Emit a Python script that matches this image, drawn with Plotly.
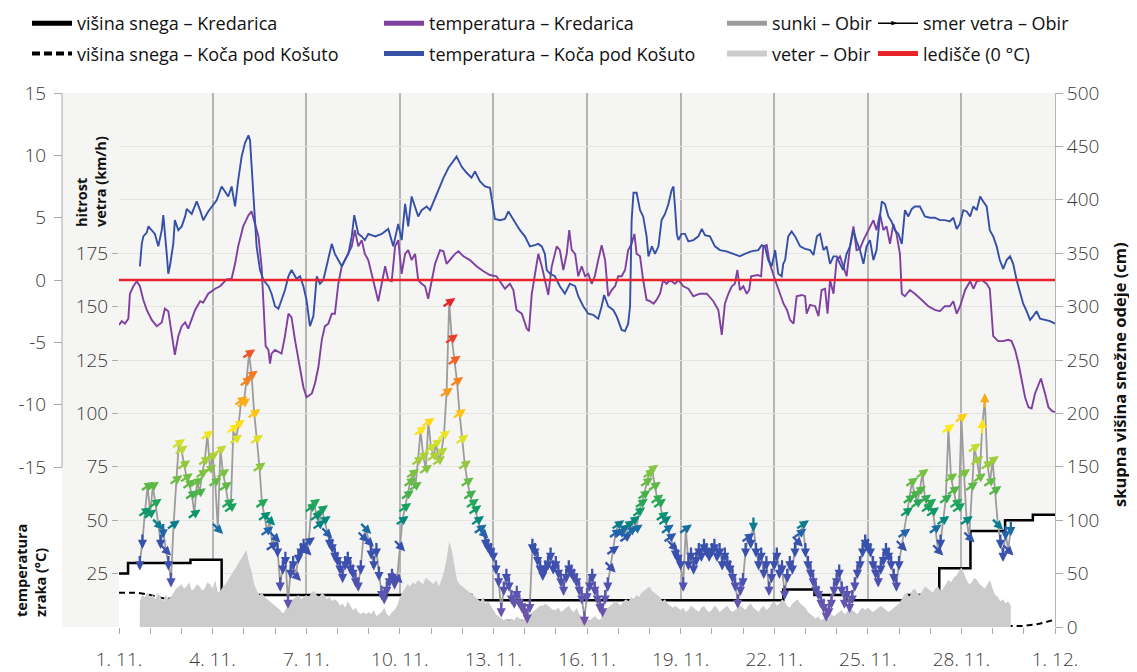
import numpy as np
import pandas as pd
import plotly.graph_objects as go
from plotly.colors import sample_colorscale

FONT = "Open Sans"
BASE = pd.Timestamp("2022-11-01")

# ---------------- data (days since 1. 11. 00:00) ----------------
kred_snow_days = [0, 0.29, 2.29, 3.29, 11.29, 21.29, 22.29, 23.29, 25.29, 26.29, 27.29, 28.4, 29.29, 30]
kred_snow_cm = [50, 60, 63, 30, 25, 35, 30, 25, 30, 55, 90, 100, 105, 105]

kosuta_snow_days = [0, 0.6, 1.0, 1.4, 1.7, 2.0, 3.0, 4.0, 5.0, 5.5, 6.5, 8.0, 8.5, 12, 16, 20, 24, 28, 28.6, 29.0, 29.5, 30]
kosuta_snow_cm = [32, 32, 30, 27, 26.5, 27, 24, 20, 13, 10, 9, 8, 8, 6, 5, 4, 3, 2, 1, 1, 3, 7]

kred_temp_pts = [
    (0.00, -3.6), (0.09, -3.3), (0.19, -3.5), (0.30, -3.1), (0.35, -1.1), (0.46, -0.5), (0.57, -0.1),
    (0.67, -0.5), (0.78, -1.6), (0.89, -2.4), (1.05, -3.2), (1.21, -3.7), (1.37, -3.4), (1.47, -2.3),
    (1.58, -2.5), (1.69, -4.5), (1.79, -6.0), (1.90, -4.5), (2.01, -3.7), (2.12, -3.4), (2.22, -3.9),
    (2.44, -2.4), (2.60, -1.7), (2.70, -1.8), (2.86, -1.1), (3.08, -0.7), (3.24, -0.5), (3.45, 0.05),
    (3.61, 0.1), (3.72, 1.3), (3.82, 2.7), (3.98, 4.3), (4.15, 5.2), (4.25, 5.5), (4.36, 4.5),
    (4.47, 3.5), (4.57, 1.1), (4.65, -3.2), (4.70, -5.3), (4.79, -5.6), (4.84, -6.7), (4.89, -5.9),
    (5.00, -5.6), (5.21, -5.9), (5.32, -4.5), (5.43, -2.7), (5.53, -3.0), (5.64, -4.8), (5.80, -7.2),
    (5.91, -8.6), (6.01, -9.4), (6.18, -9.1), (6.28, -8.3), (6.39, -7.0), (6.50, -4.8), (6.60, -3.7),
    (6.71, -3.5), (6.82, -2.7), (6.92, -2.7), (7.03, -0.3), (7.14, 1.1), (7.24, 1.6), (7.35, 2.1),
    (7.46, 2.7), (7.56, 4.0), (7.67, 2.7), (7.78, 3.2), (7.88, 2.1), (7.99, 1.6), (8.10, 0.5),
    (8.21, -0.5), (8.31, -1.7), (8.42, -0.3), (8.53, 1.1), (8.63, 0.0), (8.74, -0.1), (8.85, 2.7),
    (8.95, 3.2), (9.06, 0.5), (9.17, 2.1), (9.27, 2.4), (9.38, 1.6), (9.49, 2.1), (9.59, 0.0),
    (9.70, -0.3), (9.81, -0.5), (9.91, -1.5), (10.13, 1.3), (10.29, 2.4), (10.40, 2.3), (10.50, 1.3),
    (10.61, 1.6), (10.77, 2.1), (10.88, 2.3), (11.04, 1.9), (11.25, 1.6), (11.46, 1.1), (11.68, 0.7),
    (11.89, 0.4), (12.10, 0.3), (12.27, -0.4), (12.37, -0.7), (12.53, -0.3), (12.64, -0.8), (12.74, -2.4),
    (12.91, -2.7), (13.07, -3.9), (13.14, -4.1), (13.23, -1.1), (13.33, 0.5), (13.44, 2.1), (13.55, 1.1),
    (13.65, 0.0), (13.76, -1.2), (13.87, 1.1), (14.03, 2.7), (14.13, 2.4), (14.24, 0.8), (14.35, 2.1),
    (14.43, 4.0), (14.51, 2.4), (14.62, 2.1), (14.72, 0.3), (14.83, 1.1), (14.94, 0.3), (15.04, 0.5),
    (15.15, -0.3), (15.25, 0.3), (15.36, 1.6), (15.47, 2.8), (15.58, 1.6), (15.68, -1.3), (15.79, -0.8),
    (15.90, -0.5), (16.00, 0.3), (16.11, 0.3), (16.22, 0.8), (16.32, 2.4), (16.43, 2.9), (16.52, 3.7),
    (16.59, 2.1), (16.70, 1.9), (16.80, 0.0), (16.91, -1.6), (17.02, -1.7), (17.13, -1.9), (17.23, -1.6),
    (17.34, -1.1), (17.44, 0.0), (17.55, -0.3), (17.66, 0.0), (17.82, -0.3), (17.93, 0.0), (18.09, -0.5),
    (18.25, -0.7), (18.41, -1.3), (18.62, -1.1), (18.84, -1.1), (19.05, -1.7), (19.21, -2.4), (19.32, -4.4),
    (19.42, -1.9), (19.53, -1.1), (19.64, -0.5), (19.74, -0.3), (19.82, 0.8), (19.90, -0.8), (20.01, -0.5),
    (20.12, -1.1), (20.20, -0.8), (20.26, 0.3), (20.47, 0.4), (20.58, 0.3), (20.65, 2.7), (20.76, 2.8),
    (20.86, 1.3), (21.03, 0.0), (21.19, -1.1), (21.30, -1.9), (21.41, -2.4), (21.51, -3.2), (21.62, -3.5),
    (21.72, -1.3), (21.88, -1.2), (21.99, -1.3), (22.04, -2.7), (22.15, -2.0), (22.31, -2.1), (22.42, -2.9),
    (22.52, -0.8), (22.63, -0.7), (22.71, -2.7), (22.79, 0.0), (22.90, -1.1), (23.00, 1.6), (23.11, 1.9),
    (23.21, 1.1), (23.32, 0.3), (23.43, 2.7), (23.54, 4.3), (23.64, 2.4), (23.75, 2.5), (23.86, 3.2),
    (23.96, 3.7), (24.07, 4.3), (24.18, 4.8), (24.28, 4.0), (24.39, 5.3), (24.50, 4.0), (24.60, 4.3),
    (24.71, 2.9), (24.82, 4.5), (24.92, 3.7), (25.03, 2.1), (25.09, -1.1), (25.19, -1.3), (25.35, -0.8),
    (25.51, -1.1), (25.73, -1.6), (25.94, -2.1), (26.15, -2.4), (26.31, -2.5), (26.47, -2.1), (26.63, -2.1),
    (26.74, -1.7), (26.85, -2.7), (26.96, -2.1), (27.12, -0.8), (27.28, -0.1), (27.39, -0.7), (27.49, -0.1),
    (27.65, 0.0), (27.81, -0.3), (27.91, -0.7), (28.02, -4.5), (28.18, -4.9), (28.34, -4.9), (28.50, -4.8),
    (28.61, -4.9), (28.72, -5.6), (28.83, -6.7), (28.93, -8.0), (29.04, -9.4), (29.15, -10.2), (29.25, -10.3),
    (29.36, -9.1), (29.47, -8.3), (29.55, -7.9), (29.68, -9.1), (29.79, -10.2), (29.90, -10.5), (30.00, -10.6),
]

kosuta_temp_pts = [
    (0.67, 1.1), (0.73, 2.9), (0.78, 3.5), (0.89, 3.8), (0.94, 4.3), (1.05, 4.0), (1.15, 3.7), (1.26, 2.7),
    (1.37, 4.0), (1.42, 5.2), (1.47, 4.0), (1.53, 2.1), (1.58, 0.5), (1.63, 1.1), (1.74, 2.9), (1.79, 4.8),
    (1.90, 4.0), (2.01, 4.3), (2.12, 5.1), (2.17, 5.7), (2.33, 5.3), (2.49, 6.3), (2.60, 5.6), (2.70, 4.8),
    (2.86, 5.5), (2.97, 5.9), (3.13, 6.4), (3.29, 7.5), (3.40, 7.1), (3.50, 6.7), (3.61, 7.5), (3.72, 5.9),
    (3.82, 8.0), (3.93, 9.9), (4.04, 11.0), (4.15, 11.6), (4.20, 11.2), (4.25, 9.1), (4.31, 5.9), (4.41, 2.7),
    (4.52, 0.8), (4.63, 0.0), (4.79, -0.5), (4.89, -1.1), (5.00, -2.1), (5.11, -2.3), (5.21, -1.6), (5.32, -0.8),
    (5.43, 0.3), (5.53, 0.8), (5.69, 0.1), (5.80, 0.3), (5.91, -0.5), (6.01, -1.6), (6.12, -3.7), (6.23, -2.9),
    (6.34, 0.3), (6.44, -0.3), (6.55, 0.0), (6.71, 1.6), (6.82, 2.9), (6.92, 2.1), (7.03, 1.6), (7.14, 1.1),
    (7.24, 1.6), (7.35, 2.1), (7.46, 3.5), (7.54, 5.2), (7.67, 3.7), (7.78, 3.5), (7.88, 3.2), (7.99, 3.7),
    (8.21, 3.5), (8.42, 3.7), (8.63, 4.1), (8.79, 2.7), (8.95, 4.5), (9.06, 3.2), (9.17, 6.1), (9.27, 4.3),
    (9.38, 6.7), (9.49, 5.9), (9.59, 5.1), (9.70, 5.6), (9.86, 5.9), (9.97, 5.6), (10.13, 6.6), (10.24, 7.2),
    (10.40, 8.2), (10.56, 9.0), (10.72, 9.6), (10.82, 9.9), (10.98, 9.1), (11.14, 8.6), (11.30, 8.2), (11.41, 8.7),
    (11.57, 7.9), (11.73, 7.5), (11.89, 7.4), (12.05, 4.9), (12.21, 4.8), (12.37, 4.9), (12.48, 5.5), (12.58, 5.1),
    (12.69, 4.7), (12.85, 4.0), (13.01, 3.5), (13.17, 2.7), (13.33, 2.8), (13.44, 2.9), (13.55, 2.7), (13.65, 2.1),
    (13.71, 0.8), (13.82, 0.5), (13.97, 0.3), (14.13, -0.5), (14.29, -1.1), (14.45, -0.3), (14.62, -0.5), (14.72, -1.3),
    (14.88, -2.1), (15.04, -2.7), (15.20, -2.8), (15.36, -3.1), (15.47, -2.1), (15.55, -1.2), (15.68, -2.1), (15.84, -2.4),
    (15.95, -2.9), (16.11, -4.0), (16.22, -4.1), (16.32, -3.5), (16.38, -2.1), (16.43, 4.8), (16.49, 7.0), (16.59, 7.0),
    (16.70, 5.6), (16.80, 5.1), (16.91, 3.5), (16.97, 1.9), (17.08, 2.7), (17.18, 2.1), (17.29, 2.7), (17.39, 4.8),
    (17.50, 5.3), (17.61, 6.1), (17.71, 7.2), (17.77, 7.5), (17.82, 5.9), (17.88, 3.7), (17.93, 3.2), (18.03, 3.7),
    (18.14, 3.7), (18.25, 3.1), (18.41, 3.2), (18.57, 3.5), (18.68, 4.1), (18.78, 3.6), (18.94, 3.5), (19.10, 2.7),
    (19.26, 2.4), (19.47, 2.3), (19.69, 2.1), (19.90, 1.9), (20.06, 2.1), (20.26, 2.3), (20.49, 2.4), (20.60, 2.8),
    (20.70, 2.7), (20.81, 1.6), (20.92, 1.1), (21.03, 2.4), (21.13, 0.5), (21.24, 0.3), (21.29, 1.3), (21.35, 1.6),
    (21.45, 3.5), (21.56, 3.9), (21.67, 3.5), (21.83, 2.7), (21.99, 2.5), (22.15, 2.4), (22.26, 2.0), (22.37, 3.5),
    (22.47, 3.7), (22.58, 2.4), (22.68, 2.7), (22.79, 1.3), (22.90, 1.9), (23.00, 1.9), (23.11, 1.3), (23.21, 0.8),
    (23.32, 2.1), (23.43, 2.7), (23.54, 4.0), (23.64, 3.1), (23.75, 2.4), (23.86, 1.3), (23.96, 2.7), (24.07, 3.2),
    (24.18, 1.6), (24.28, 2.4), (24.39, 5.1), (24.45, 6.3), (24.55, 6.1), (24.66, 5.1), (24.76, 4.7), (24.87, 4.0),
    (24.98, 3.7), (25.09, 2.9), (25.19, 5.6), (25.30, 5.1), (25.41, 5.7), (25.51, 5.9), (25.67, 5.9), (25.83, 5.1),
    (25.99, 5.0), (26.15, 5.0), (26.31, 4.8), (26.47, 4.8), (26.63, 4.7), (26.74, 5.0), (26.85, 4.1), (26.95, 4.5),
    (27.06, 5.6), (27.17, 5.5), (27.28, 5.1), (27.38, 5.9), (27.49, 5.6), (27.60, 6.7), (27.70, 6.3), (27.81, 5.9),
    (27.91, 4.0), (28.02, 3.5), (28.13, 2.7), (28.23, 1.6), (28.34, 0.9), (28.45, 1.6), (28.56, 1.9), (28.66, 1.3),
    (28.77, 0.0), (28.88, -1.1), (28.98, -1.9), (29.09, -2.5), (29.20, -3.2), (29.30, -2.9), (29.41, -2.5), (29.52, -3.1),
    (29.68, -3.2), (29.84, -3.3), (30.00, -3.5),
]

# Obir wind, 2-hourly from 1. 11. 16:00
obir_start_day = 16 / 24
obir_step_h = 2
gust_kmh = [
    30, 40, 54, 66,
    53, 66, 58, 48, 40, 45, 36, 30, 22, 48, 69, 86,
    83, 76, 70, 67, 62, 53, 68, 63, 72, 78, 90, 74,
    80, 68, 46, 83, 72, 66, 58, 56, 93, 88, 95, 106,
    105, 115, 128, 118, 100, 88, 75, 58, 52, 45, 50, 38,
    42, 36, 20, 28, 32, 12, 26, 30, 24, 33, 36, 38,
    36, 40, 56, 58, 52, 48, 55, 50, 44, 40, 38, 34,
    32, 28, 24, 30, 32, 28, 26, 22, 20, 28, 42, 46,
    40, 35, 30, 36, 25, 16, 14, 18, 22, 24, 21, 23,
    38, 50, 56, 62, 68, 72, 66, 78, 92, 80, 74, 96,
    84, 80, 86, 78, 82, 90, 110, 152, 135, 125, 115, 100,
    88, 76, 68, 62, 58, 55, 50, 46, 44, 40, 38, 36,
    34, 28, 22, 8, 18, 24, 20, 14, 12, 16, 12, 10,
    8, 5, 10, 38, 36, 32, 28, 25, 28, 30, 34, 28,
    30, 26, 22, 18, 24, 28, 26, 24, 22, 18, 14, 4,
    15, 20, 24, 18, 14, 10, 8, 14, 20, 28, 36, 44,
    48, 44, 46, 42, 48, 45, 50, 46, 54, 58, 62, 68,
    72, 74, 66, 60, 58, 52, 50, 46, 42, 38, 35, 33,
    30, 20, 46, 30, 34, 28, 32, 36, 34, 38, 36, 34,
    36, 38, 34, 36, 30, 34, 30, 28, 24, 20, 12, 18,
    22, 36, 42, 40, 48, 36, 30, 34, 26, 30, 18, 24,
    30, 34, 26, 28, 16, 24, 30, 28, 36, 40, 44, 48,
    36, 30, 26, 22, 18, 16, 12, 10, 6, 8, 12, 18,
    22, 26, 18, 12, 16, 10, 14, 20, 26, 30, 36, 40,
    38, 36, 30, 26, 22, 28, 32, 36, 34, 30, 24, 20,
    30, 38, 44, 54, 60, 68, 62, 58, 64, 72, 60, 56,
    58, 54, 46, 36, 40, 50, 60, 93, 70, 64, 58, 56,
    98, 72, 50, 42, 66, 84, 78, 70, 94, 106, 76, 68,
    78, 64, 48, 40, 34, 44, 36, 46,
]
wind_kmh = [
    12, 15, 14, 16,
    14, 15, 13, 16, 14, 12, 15, 13, 14, 16, 18, 19,
    20, 18, 19, 21, 17, 18, 20, 19, 17, 18, 21, 20,
    18, 22, 16, 17, 19, 20, 22, 24, 26, 28, 30, 32,
    34, 36, 30, 26, 20, 17, 15, 16, 14, 13, 12, 11,
    10, 9, 8, 6, 8, 10, 12, 13, 14, 15, 13, 14,
    15, 14, 16, 17, 15, 14, 16, 15, 13, 14, 12, 13,
    12, 10, 11, 9, 12, 10, 8, 9, 7, 6, 7, 6,
    7, 6, 8, 5, 6, 7, 9, 6, 5, 7, 8, 10,
    14, 16, 18, 20, 19, 21, 20, 22, 21, 20, 23, 22,
    21, 20, 22, 19, 22, 26, 32, 40, 36, 28, 22, 20,
    19, 18, 17, 16, 15, 14, 13, 12, 14, 11, 12, 10,
    8, 6, 5, 4, 3, 4, 3, 4, 3, 5, 4, 3,
    4, 5, 6, 7, 8, 9, 10, 10, 11, 10, 9, 8,
    8, 9, 7, 8, 9, 10, 8, 7, 9, 6, 5, 4,
    4, 3, 4, 5, 4, 3, 6, 8, 9, 10, 11, 12,
    11, 10, 12, 13, 12, 14, 13, 15, 14, 16, 17, 18,
    19, 17, 16, 15, 14, 12, 13, 11, 10, 9, 10, 9,
    8, 9, 7, 8, 10, 9, 8, 7, 9, 10, 8, 7,
    8, 10, 9, 7, 8, 9, 10, 8, 7, 8, 9, 10,
    9, 8, 10, 11, 9, 8, 7, 9, 10, 8, 9, 11,
    12, 10, 11, 13, 12, 10, 9, 11, 12, 13, 11, 10,
    9, 7, 6, 5, 4, 5, 3, 4, 5, 4, 6, 5,
    6, 7, 8, 6, 7, 9, 8, 7, 6, 8, 9, 8,
    9, 8, 7, 8, 9, 10, 9, 8, 7, 8, 9, 10,
    11, 13, 15, 16, 14, 17, 18, 16, 15, 17, 19, 18,
    17, 16, 18, 19, 17, 18, 20, 22, 21, 23, 24, 26,
    28, 25, 22, 20, 21, 23, 22, 20, 19, 18, 20, 22,
    18, 15, 14, 12, 13, 11, 12, 10,
]
# wind direction codes per point: a = NE, c = SE, s = S, n = N
wind_dir_codes = (
    "ssaa"
    "aaacsscssaaa" "aaaaaaaaaaaa" "aacaaaaaaaaa" "aaaaaaaaaaca" "cssssssscsss"
    "caaaaaaacsss" "sssssssssscc" "cssssssssssc" "caaaaaaaaaaa" "aaaaaaaaaaaa"
    "aaaaaaaacsss" "ssssssssssss" "ssssssssssss" "ssssssssssss" "ssssssssscaa"
    "aaaaaaaaaaaa" "aaaaaaaaacss" "ssasssssssss" "ssssssssssss" "ssasssssssss"
    "ssssssssscaa" "ssssssssssss" "ssssssssssss" "ssssssssssss" "scaaaaaaaaaa"
    "aaacsaaaaaaa" "aaacaaaannaa"
    "aacssscs"
)
dir_angle = {"a": 55, "c": 135, "s": 180, "n": 0}

assert len(gust_kmh) == len(wind_kmh) == len(wind_dir_codes)

# ---------------- helpers ----------------
def to_dt(days):
    return BASE + pd.to_timedelta(np.asarray(days, dtype=float), unit="D")

obir_days = obir_start_day + np.arange(len(gust_kmh)) * obir_step_h / 24
obir_dt = to_dt(obir_days)
kred_days, kred_temp = zip(*kred_temp_pts)
kos_days, kos_temp = zip(*kosuta_temp_pts)

speed_scale = [
    [0.0, "#7a52a8"], [0.10, "#5b56b0"], [0.18, "#3f4fae"], [0.27, "#3552ad"],
    [0.30, "#1f66ad"], [0.33, "#00877d"], [0.37, "#13a060"], [0.42, "#4cb448"],
    [0.50, "#8cc63f"], [0.57, "#cfde2f"], [0.62, "#ffe81c"], [0.67, "#fec20f"],
    [0.73, "#f89a1c"], [0.82, "#f26522"], [0.95, "#e8282b"], [1.0, "#e3262a"],
]
SPEED_MAX = 150

PURPLE = "#8040a0"
BLUE = "#3550a6"
RED = "#e8232a"
GUST = "#9c9c9c"
WINDFILL = "#cccccc"

# page geometry (browser adds an 8 px body margin)
OFF = 8
W, H = 1137 - OFF, 672 - OFF
PLOT_L, PLOT_R, PLOT_T, PLOT_B = 119, 1055, 93, 627      # page coords of plot area
PANEL_L = 62                                               # grey panel / temperature axis
ML = PANEL_L - OFF
MR = W - (PLOT_R - OFF)
MT = PLOT_T - OFF
MB = H - (PLOT_B - OFF)
PW = W - ML - MR
PH = H - MT - MB
x_dom0 = (PLOT_L - PANEL_L) / PW

def px(page_x):
    return (page_x - OFF - ML) / PW

def py(page_y):
    return (H - MB - (page_y - OFF)) / PH

fig = go.Figure()

# base subplot: snow (right axis)
fig.add_trace(go.Scatter(x=to_dt(kred_snow_days), y=kred_snow_cm, mode="lines",
                         line=dict(color="black", width=2.5, shape="hv"),
                         fill="tozeroy", fillcolor="white", showlegend=False, yaxis="y",
                         hoverinfo="skip"))
fig.add_trace(go.Scatter(x=to_dt(kosuta_snow_days), y=kosuta_snow_cm, mode="lines",
                         line=dict(color="black", width=2, dash="6px,4px"),
                         showlegend=False, yaxis="y", hoverinfo="skip"))

# wind subplot
fig.add_trace(go.Scatter(x=obir_dt, y=wind_kmh, mode="lines",
                         line=dict(color="rgba(0,0,0,0)", width=0),
                         fill="tozeroy", fillcolor=WINDFILL, showlegend=False, yaxis="y2"))
fig.add_trace(go.Scatter(x=obir_dt, y=gust_kmh, mode="lines",
                         line=dict(color=GUST, width=1.8), showlegend=False, yaxis="y2"))

# temperature subplot
fig.add_trace(go.Scatter(x=to_dt(kred_days), y=kred_temp, mode="lines",
                         line=dict(color=PURPLE, width=1.9), showlegend=False, yaxis="y3"))
fig.add_trace(go.Scatter(x=to_dt(kos_days), y=kos_temp, mode="lines",
                         line=dict(color=BLUE, width=1.9), showlegend=False, yaxis="y3"))
fig.add_trace(go.Scatter(x=to_dt([0, 30]), y=[0, 0], mode="lines",
                         line=dict(color=RED, width=2.5), showlegend=False, yaxis="y3"))

# wind-direction arrows (head placed half an arrow length ahead of the gust point)
ARROW_LEN = 15.0
arrow_colors = sample_colorscale(speed_scale, [min(g, SPEED_MAX) / SPEED_MAX for g in gust_kmh])
annotations = []
for t, g, code, col in zip(obir_dt, gust_kmh, wind_dir_codes, arrow_colors):
    th = np.deg2rad(dir_angle[code])
    sx, cy = float(np.sin(th)), float(np.cos(th))
    annotations.append(dict(
        x=t, y=g, xref="x", yref="y2", text="", font=dict(size=1), borderpad=0,
        showarrow=True, arrowhead=2, arrowsize=0.8, arrowwidth=2.3, arrowcolor=col,
        ax=-ARROW_LEN * sx, ay=ARROW_LEN * cy, axref="pixel", ayref="pixel",
        xshift=ARROW_LEN / 2 * sx, yshift=ARROW_LEN / 2 * cy,
        standoff=0, startstandoff=0,
    ))

# legend-only entries
def leg(name, legend, **kw):
    fig.add_trace(go.Scatter(x=[None], y=[None], name=name, legend=legend, legendgroup=name,
                             yaxis="y", **kw))

leg("višina snega – Kredarica", "legend", mode="lines", line=dict(color="black", width=5))
leg("višina snega – Koča pod Košuto", "legend", mode="lines", line=dict(color="black", width=4, dash="8px,4px"))
leg("temperatura – Kredarica", "legend2", mode="lines", line=dict(color=PURPLE, width=5))
leg("temperatura – Koča pod Košuto", "legend2", mode="lines", line=dict(color=BLUE, width=5))
leg("sunki – Obir", "legend3", mode="lines", line=dict(color=GUST, width=5))
leg("veter – Obir", "legend3", mode="none", fill="tozeroy", fillcolor=WINDFILL)
leg("smer vetra – Obir", "legend4", mode="lines+markers", line=dict(color="black", width=1.5),
    marker=dict(symbol="arrow", angle=90, size=7, color="black"))
leg("ledišče (0 °C)", "legend4", mode="lines", line=dict(color=RED, width=5))

tickfont = dict(family=FONT, size=19, color="#3a3a3a", weight=300)
leg_common = dict(orientation="v", bgcolor="rgba(0,0,0,0)", xanchor="left", yanchor="top",
                  font=dict(family=FONT, size=18, color="#111"), itemwidth=40, tracegroupgap=4)
LEG_TOP = 5

DAY_MS = 86400000
fig.update_layout(
    width=W, height=H,
    margin=dict(l=ML, r=MR, t=MT, b=MB, autoexpand=False),
    paper_bgcolor="white", plot_bgcolor="#f5f5f3",
    font=dict(family=FONT),
    annotations=annotations,
    xaxis=dict(type="date", domain=[x_dom0, 1], range=[BASE, BASE + pd.Timedelta(days=30)],
               tick0=BASE, dtick=3 * DAY_MS, tickformat="%-d. %-m.", ticks="outside", ticklen=6,
               tickcolor="#aaa", showgrid=True, gridcolor="#b5b5b5", gridwidth=1.5,
               minor=dict(dtick=DAY_MS, ticks="outside", ticklen=6, tickcolor="#aaa", showgrid=False),
               tickfont=tickfont, ticklabelstandoff=9, zeroline=False, showline=False, automargin=False),
    yaxis=dict(side="right", anchor="x", range=[0, 500], tickvals=list(range(0, 501, 50)),
               ticks="outside", ticklen=7, tickcolor="#aaa", showgrid=True, gridcolor="#e4e4e2",
               showline=True, linecolor="#b5b5b5", zeroline=False, tickfont=tickfont, automargin=False),
    yaxis2=dict(overlaying="y", side="left", anchor="x", range=[0, 250],
                tickvals=[25, 50, 75, 100, 125, 150, 175], ticks="outside", ticklen=6, tickcolor="#aaa",
                showgrid=False, zeroline=False, showline=False, tickfont=tickfont, automargin=False),
    yaxis3=dict(overlaying="y", side="left", anchor="free", position=0, range=[-27.83, 15],
                tickvals=[-15, -10, -5, 0, 5, 10, 15], ticktext=["-15", "-10", "-5", "0", "5", "10", "15"],
                ticks="outside", ticklen=8, tickcolor="#aaa", ticklabelstandoff=4,
                showgrid=False, zeroline=False, showline=False, tickfont=tickfont, automargin=False),
    legend=dict(x=px(27), y=py(LEG_TOP), **leg_common),
    legend2=dict(x=px(379), y=py(LEG_TOP), **leg_common),
    legend3=dict(x=px(722), y=py(LEG_TOP), **leg_common),
    legend4=dict(x=px(873), y=py(LEG_TOP), **leg_common),
    showlegend=True,
)

fig.add_shape(type="rect", xref="paper", yref="paper", x0=0, x1=1, y0=0, y1=1,
              fillcolor="#f5f5f3", line=dict(width=0), layer="below")
fig.add_shape(type="line", xref="paper", yref="y3", x0=0, x1=0, y0=-15, y1=15,
              line=dict(color="#aaa", width=1))

title_font = dict(family=FONT, size=14.5, color="#111", weight="bold")
fig.add_annotation(text="hitrost<br>vetra (km/h)", xref="paper", yref="paper",
                   x=px(91), y=py(182), xanchor="center", yanchor="middle",
                   textangle=-90, align="left", showarrow=False, font=title_font)
fig.add_annotation(text="temperatura<br>zraka (°C)", xref="paper", yref="paper",
                   x=px(31), y=py(571), xanchor="center", yanchor="middle",
                   textangle=-90, align="left", showarrow=False, font=title_font)
fig.add_annotation(text="skupna višina snežne odeje (cm)", xref="paper", yref="paper",
                   x=px(1119), y=py(375), xanchor="center", yanchor="middle", textangle=-90,
                   showarrow=False, font=dict(family=FONT, size=16.5, color="#111", weight="bold"))

fig.write_html("out.html")
